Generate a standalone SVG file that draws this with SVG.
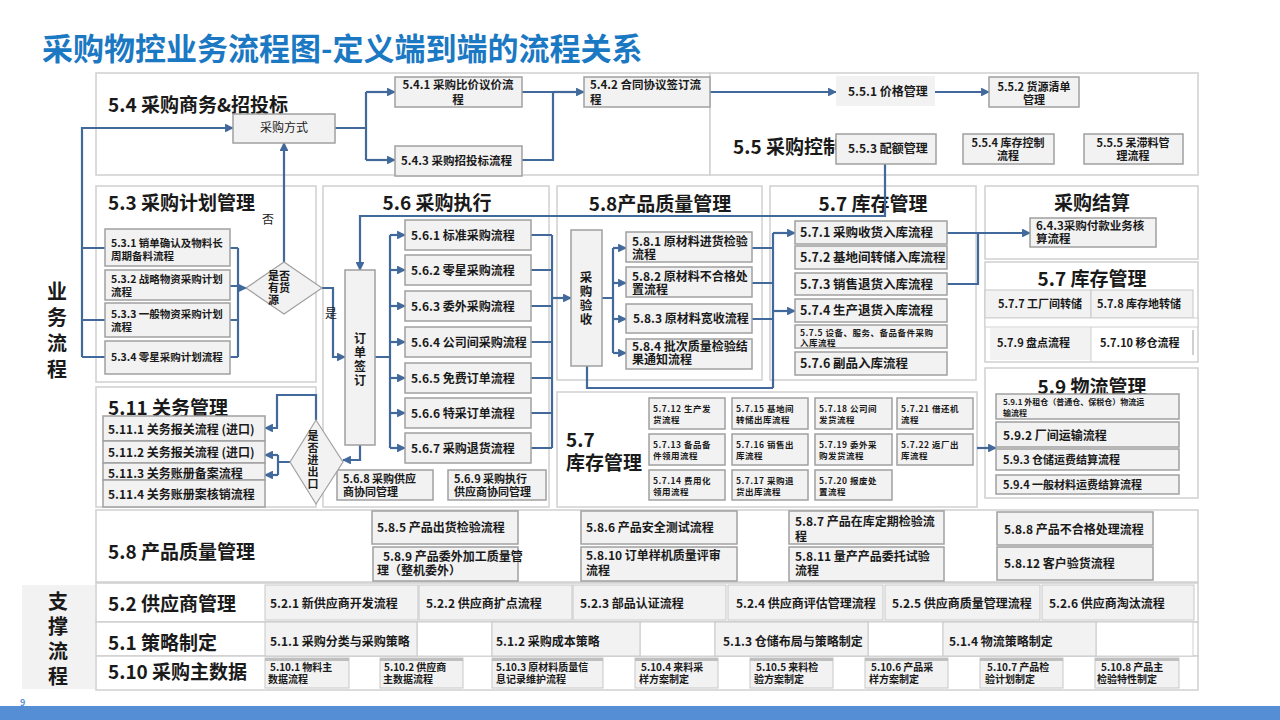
<svg xmlns="http://www.w3.org/2000/svg" width="1280" height="720" viewBox="0 0 1280 720">
<defs>
<marker id="a" viewBox="0 0 10 10" refX="9" refY="5" markerWidth="4" markerHeight="4" orient="auto" markerUnits="strokeWidth"><path d="M0,0 L10,5 L0,10 z" fill="#41699C"/></marker>
<style>
.sec{fill:#fff;stroke:#D0D0D0;stroke-width:1.5}
.box{fill:#F2F2F2;stroke:#A0A0A0;stroke-width:1.5}
.cell{fill:#F2F2F2;stroke:#C8C8C8;stroke-width:1}
.wc{fill:#fff;stroke:#D0D0D0;stroke-width:1}
.t{font-family:"Noto Sans CJK SC","Noto Sans",sans-serif;font-weight:bold;fill:#1a1a1a}
.h{font-size:19px}
.m{text-anchor:middle}
.v{writing-mode:vertical-rl;text-anchor:middle}
.f12{font-size:12px}
.f11{font-size:11px}
.f10{font-size:10.5px}
.f8{font-size:8.5px;letter-spacing:0.5px}
.c{stroke:#41699C;stroke-width:2.2;fill:none}
.ar{marker-end:url(#a)}
</style>
</defs>
<rect width="1280" height="720" fill="#fff"/>
<text x="42" y="60" class="t" style="font-size:31px;fill:#1B78C3">采购物控业务流程图-定义端到端的流程关系</text>
<rect x="0" y="706" width="1280" height="14" fill="#558ED5"/>
<text x="20" y="706" class="t" style="font-size:9px;fill:#558ED5">9</text>

<g id="label-business">
<text x="57" y="333" class="t v" style="font-size:20px;letter-spacing:6px">业务流程</text>
</g>
<g id="label-support">
<rect x="22" y="585" width="73" height="104" fill="#F2F2F2"/>
<text x="58" y="641" class="t v" style="font-size:20px;letter-spacing:5px">支撑流程</text>
</g>

<!-- sections -->
<g id="sec-5-4"><rect class="sec" x="96" y="73" width="614" height="102"/><text x="108" y="112" class="t h">5.4 采购商务&amp;招投标</text></g>
<g id="sec-5-5"><rect class="sec" x="710" y="73" width="488" height="102"/><text x="733" y="154" class="t h">5.5 采购控制</text></g>
<g id="sec-5-3"><rect class="sec" x="96" y="186" width="220" height="196"/><text x="108" y="210" class="t h">5.3 采购计划管理</text></g>
<g id="sec-5-6"><rect class="sec" x="323" y="186" width="226" height="321"/><text x="437" y="210" class="t h m">5.6 采购执行</text></g>
<g id="sec-5-8a"><rect class="sec" x="557" y="186" width="205" height="194"/><text x="660" y="211" class="t h m">5.8产品质量管理</text></g>
<g id="sec-5-7a"><rect class="sec" x="770" y="186" width="206" height="194"/><text x="873" y="211" class="t h m">5.7 库存管理</text></g>
<g id="sec-js"><rect class="sec" x="985" y="186" width="213" height="73"/><text x="1092" y="210" class="t h m">采购结算</text></g>
<g id="sec-5-7r"><rect class="sec" x="985" y="262" width="213" height="100"/><text x="1092" y="286" class="t h m">5.7 库存管理</text></g>
<g id="sec-5-9"><rect class="sec" x="985" y="368" width="213" height="130"/><text x="1092" y="394" class="t h m">5.9 物流管理</text></g>
<g id="sec-5-11"><rect class="sec" x="96" y="387" width="220" height="120"/><text x="108" y="415" class="t h">5.11 关务管理</text></g>
<g id="sec-5-7b"><rect class="sec" x="557" y="392" width="420" height="115"/><text class="t h"><tspan x="566" y="447">5.7</tspan><tspan x="566" y="470">库存管理</tspan></text></g>
<g id="sec-5-8b"><rect class="sec" x="96" y="510" width="1102" height="72"/><text x="108" y="559" class="t h">5.8 产品质量管理</text></g>
<g id="row-5-2"><rect class="sec" x="96" y="583" width="1102" height="39"/><text x="108" y="611" class="t h">5.2 供应商管理</text></g>
<g id="row-5-1"><rect class="sec" x="96" y="622" width="1102" height="34"/><text x="108" y="650" class="t h">5.1 策略制定</text></g>
<g id="row-5-10"><rect class="sec" x="96" y="656" width="1102" height="34"/><text x="108" y="679" class="t h">5.10 采购主数据</text></g>

<!-- connectors -->
<g id="connectors">
<path class="c" d="M82,357 V128 H233" style="marker-end:url(#a)"/>
<path class="c" d="M82,248 H105 M82,320 H105 M82,357 H105"/>
<path class="c" d="M230,248 H238 M230,286 H238 M230,320 H238 M230,357 H238 M238,248 V357"/>
<path class="c ar" d="M238,288 H246"/>
<path class="c ar" d="M284,262 V143"/>
<path class="c ar" d="M322,288 H333 V357 H345"/>
<path class="c" d="M335,128 H366 M366,92 V160"/>
<path class="c ar" d="M366,92 H395"/>
<path class="c ar" d="M366,160 H395"/>
<path class="c" d="M522,92 H553 M522,160 H553 V92"/>
<path class="c ar" d="M553,92 H584"/>
<path class="c ar" d="M710,92 H836"/>
<path class="c ar" d="M935,92 H989"/>
<path class="c ar" d="M885,164 V216 H360 V270"/>
<path class="c" d="M375,357 H390 M390,235 V448"/>
<path class="c ar" d="M390,235 H405"/>
<path class="c ar" d="M390,270 H405"/>
<path class="c ar" d="M390,306 H405"/>
<path class="c ar" d="M390,342 H405"/>
<path class="c ar" d="M390,378 H405"/>
<path class="c ar" d="M390,413 H405"/>
<path class="c ar" d="M390,448 H405"/>
<path class="c" d="M531,235 H552 M531,270 H552 M531,306 H552 M531,342 H552 M531,378 H552 M531,413 H552 M531,448 H552 M552,235 V448"/>
<path class="c ar" d="M552,298 H571"/>
<path class="c" d="M602,298 H613 M613,248 V353"/>
<path class="c ar" d="M613,248 H626"/>
<path class="c ar" d="M613,283 H626"/>
<path class="c ar" d="M613,319 H626"/>
<path class="c ar" d="M613,353 H626"/>
<path class="c" d="M752,248 H773 M752,283 H773 M752,319 H773 M773,233 V388 M587,366 V388 H773"/>
<path class="c ar" d="M773,233 H795"/>
<path class="c ar" d="M773,311 H795"/>
<path class="c ar" d="M947,233 H1030"/>
<path class="c" d="M947,284 H978 V233"/>
<path class="c ar" d="M360,444 V460 H343"/>
<path class="c ar" d="M316,420 V395 H277 V428 H265"/>
<path class="c" d="M290,462 H278 M278,455 V475"/>
<path class="c ar" d="M278,455 H265"/>
<path class="c ar" d="M278,475 H265"/>
<path class="c ar" d="M977,448 H996"/>
</g>

<!-- 5.4 nodes -->
<g id="n-cgfs"><rect class="box" x="233" y="114" width="102" height="29"/><text x="284" y="132" class="t m f12" style="font-weight:normal">采购方式</text></g>
<g id="n-5-4-1"><rect class="box" x="395" y="77" width="127" height="30"/><text class="t m" style="font-size:11.5px"><tspan x="458" y="89">5.4.1 采购比价议价流</tspan><tspan x="458" y="104">程</tspan></text></g>
<g id="n-5-4-3"><rect class="box" x="395" y="146" width="127" height="30"/><text x="401" y="165" class="t" style="font-size:11.5px">5.4.3 采购招投标流程</text></g>
<g id="n-5-4-2"><rect class="box" x="584" y="77" width="126" height="30"/><text class="t" style="font-size:11.5px"><tspan x="590" y="89">5.4.2 合同协议签订流</tspan><tspan x="590" y="104">程</tspan></text></g>
<!-- 5.5 nodes -->
<g id="n-5-5-1"><rect x="836" y="76" width="99" height="30" fill="#F2F2F2"/><text x="848" y="96" class="t f12">5.5.1 价格管理</text></g>
<g id="n-5-5-2"><rect class="box" x="989" y="77" width="90" height="30"/><text class="t m f11"><tspan x="1034" y="91">5.5.2 货源清单</tspan><tspan x="1034" y="104">管理</tspan></text></g>
<g id="n-5-5-3"><rect class="box" x="836" y="134" width="100" height="30"/><text x="848" y="153" class="t f12">5.5.3 配额管理</text></g>
<g id="n-5-5-4"><rect class="box" x="963" y="134" width="91" height="30"/><text class="t m f11"><tspan x="1008" y="147">5.5.4 库存控制</tspan><tspan x="1008" y="160">流程</tspan></text></g>
<g id="n-5-5-5"><rect class="box" x="1084" y="134" width="99" height="30"/><text class="t m f11"><tspan x="1133" y="147">5.5.5 呆滞料管</tspan><tspan x="1133" y="160">理流程</tspan></text></g>
<!-- 5.3 nodes -->
<g id="n-5-3-1"><rect class="box" x="105" y="229" width="125" height="37"/><text class="t f10"><tspan x="111" y="247">5.3.1 销单确认及物料长</tspan><tspan x="111" y="260">周期备料流程</tspan></text></g>
<g id="n-5-3-2"><rect class="box" x="105" y="270" width="125" height="30"/><text class="t f10"><tspan x="111" y="283">5.3.2 战略物资采购计划</tspan><tspan x="111" y="296">流程</tspan></text></g>
<g id="n-5-3-3"><rect class="box" x="105" y="303" width="125" height="34"/><text class="t f10"><tspan x="111" y="318">5.3.3 一般物资采购计划</tspan><tspan x="111" y="331">流程</tspan></text></g>
<g id="n-5-3-4"><rect class="box" x="105" y="341" width="125" height="33"/><text x="111" y="361" class="t f10">5.3.4 零星采购计划流程</text></g>
<g id="n-d1"><polygon points="246,288 284,262 322,288 284,314" fill="#F2F2F2" stroke="#A0A0A0" stroke-width="1.2"/><text class="t f11"><tspan x="268" y="280">是否</tspan><tspan x="268" y="292">有货</tspan><tspan x="268" y="304">源</tspan></text></g>
<text x="262" y="224" class="t f12" style="font-weight:normal">否</text>
<text x="325" y="318" class="t f12" style="font-weight:normal">是</text>
<!-- 5.6 nodes -->
<g id="n-ddqd"><rect class="box" x="345" y="270" width="30" height="175"/><text x="360" y="360" class="t v f12" style="letter-spacing:2px">订单签订</text></g>
<g id="n-5-6-1"><rect class="box" x="405" y="220" width="126" height="30"/><text x="411" y="240" class="t f12">5.6.1 标准采购流程</text></g>
<g id="n-5-6-2"><rect class="box" x="405" y="255" width="126" height="30"/><text x="411" y="275" class="t f12">5.6.2 零星采购流程</text></g>
<g id="n-5-6-3"><rect class="box" x="405" y="291" width="126" height="30"/><text x="411" y="311" class="t f12">5.6.3 委外采购流程</text></g>
<g id="n-5-6-4"><rect class="box" x="405" y="327" width="126" height="30"/><text x="411" y="347" class="t f12">5.6.4 公司间采购流程</text></g>
<g id="n-5-6-5"><rect class="box" x="405" y="363" width="126" height="30"/><text x="411" y="383" class="t f12">5.6.5 免费订单流程</text></g>
<g id="n-5-6-6"><rect class="box" x="405" y="398" width="126" height="30"/><text x="411" y="418" class="t f12">5.6.6 特采订单流程</text></g>
<g id="n-5-6-7"><rect class="box" x="405" y="433" width="126" height="30"/><text x="411" y="453" class="t f12">5.6.7 采购退货流程</text></g>
<g id="n-5-6-8"><rect class="box" x="337" y="470" width="96" height="30"/><text class="t f11"><tspan x="343" y="483">5.6.8 采购供应</tspan><tspan x="343" y="496">商协同管理</tspan></text></g>
<g id="n-5-6-9"><rect class="box" x="448" y="470" width="98" height="30"/><text class="t f11"><tspan x="454" y="483">5.6.9 采购执行</tspan><tspan x="454" y="496">供应商协同管理</tspan></text></g>
<!-- 5.8 nodes -->
<g id="n-cgys"><rect class="box" x="571" y="230" width="31" height="136"/><text x="586" y="299" class="t v" style="font-size:12.5px;letter-spacing:1.5px">采购验收</text></g>
<g id="n-5-8-1"><rect class="box" x="626" y="232" width="126" height="30"/><text class="t f12"><tspan x="632" y="246">5.8.1 原材料进货检验</tspan><tspan x="632" y="259">流程</tspan></text></g>
<g id="n-5-8-2"><rect class="box" x="626" y="267" width="126" height="30"/><text class="t f12"><tspan x="632" y="281">5.8.2 原材料不合格处</tspan><tspan x="632" y="294">置流程</tspan></text></g>
<g id="n-5-8-3"><rect class="box" x="626" y="304" width="126" height="29"/><text x="633" y="323" class="t f12">5.8.3 原材料宽收流程</text></g>
<g id="n-5-8-4"><rect class="box" x="626" y="339" width="126" height="30"/><text class="t f12"><tspan x="632" y="351">5.8.4 批次质量检验结</tspan><tspan x="632" y="364">果通知流程</tspan></text></g>
<!-- 5.7 nodes -->
<g id="n-5-7-1"><rect class="box" x="795" y="221" width="152" height="23"/><text x="800" y="237" class="t" style="font-size:12.5px">5.7.1 采购收货入库流程</text></g>
<g id="n-5-7-2"><rect class="box" x="795" y="246" width="152" height="23"/><text x="800" y="262" class="t" style="font-size:12.5px">5.7.2 基地间转储入库流程</text></g>
<g id="n-5-7-3"><rect class="box" x="795" y="273" width="152" height="22"/><text x="800" y="289" class="t" style="font-size:12.5px">5.7.3 销售退货入库流程</text></g>
<g id="n-5-7-4"><rect class="box" x="795" y="299" width="152" height="23"/><text x="800" y="315" class="t" style="font-size:12.5px">5.7.4 生产退货入库流程</text></g>
<g id="n-5-7-5"><rect class="box" x="795" y="325" width="152" height="23"/><text class="t f8"><tspan x="800" y="336">5.7.5 设备、服务、备品备件采购</tspan><tspan x="800" y="346">入库流程</tspan></text></g>
<g id="n-5-7-6"><rect class="box" x="795" y="352" width="152" height="23"/><text x="800" y="368" class="t" style="font-size:12.5px">5.7.6 副品入库流程</text></g>
<g id="n-6-4-3"><rect class="box" x="1030" y="218" width="126" height="29"/><text class="t" style="font-size:11.5px"><tspan x="1036" y="230">6.4.3采购付款业务核</tspan><tspan x="1036" y="243">算流程</tspan></text></g>
<!-- 5.7 right table -->
<g id="n-5-7-7"><rect class="cell" x="985" y="290" width="106" height="28"/><text x="998" y="308" class="t f11">5.7.7 工厂间转储</text></g>
<g id="n-5-7-8"><rect class="cell" x="1091" y="290" width="102" height="28"/><text x="1097" y="308" class="t f11">5.7.8 库存地转储</text></g>
<rect class="wc" x="985" y="318" width="213" height="9"/>
<g id="n-5-7-9"><rect x="990" y="328" width="101" height="32" fill="#F2F2F2"/><text x="997" y="347" class="t f11">5.7.9 盘点流程</text></g>
<g id="n-5-7-10"><line x1="1091" y1="327" x2="1091" y2="362" stroke="#D0D0D0"/><line x1="1193" y1="330" x2="1193" y2="355" stroke="#A0A0A0"/><text x="1100" y="347" class="t f11">5.7.10 移仓流程</text></g>
<!-- 5.9 nodes -->
<g id="n-5-9-1"><rect class="box" x="996" y="394" width="183" height="25"/><text class="t" style="font-size:8px"><tspan x="1003" y="405">5.9.1 外租仓（普通仓、保税仓）物流运</tspan><tspan x="1003" y="416">输流程</tspan></text></g>
<g id="n-5-9-2"><rect class="box" x="996" y="422" width="183" height="25"/><text x="1003" y="440" class="t f12">5.9.2 厂间运输流程</text></g>
<g id="n-5-9-3"><rect class="box" x="996" y="449" width="183" height="21"/><text x="1003" y="464" class="t f11">5.9.3 仓储运费结算流程</text></g>
<g id="n-5-9-4"><rect class="box" x="996" y="475" width="183" height="19"/><text x="1003" y="489" class="t f11">5.9.4 一般材料运费结算流程</text></g>
<!-- 5.11 nodes -->
<g id="n-5-11-1"><rect class="box" x="103" y="416" width="162" height="25"/><text x="108" y="434" class="t f12">5.11.1 关务报关流程 (进口)</text></g>
<g id="n-5-11-2"><rect class="box" x="103" y="441" width="162" height="22"/><text x="108" y="457" class="t f12">5.11.2 关务报关流程 (进口)</text></g>
<g id="n-5-11-3"><rect class="box" x="103" y="463" width="162" height="17"/><text x="108" y="478" class="t f12">5.11.3 关务账册备案流程</text></g>
<g id="n-5-11-4"><rect class="box" x="103" y="480" width="162" height="27"/><text x="108" y="499" class="t f12">5.11.4 关务账册案核销流程</text></g>
<g id="n-d2"><polygon points="290,462 316,420 343,462 316,504" fill="#F2F2F2" stroke="#A0A0A0" stroke-width="1.2"/><text x="313" y="460" class="t v f11" style="letter-spacing:1px">是否进出口</text></g>
<!-- 5.7 lower small nodes -->
<g id="n-5-7-12"><rect class="box" x="649" y="398" width="76" height="31"/><text class="t f8"><tspan x="653" y="412">5.7.12 生产发</tspan><tspan x="653" y="423">货流程</tspan></text></g>
<g id="n-5-7-15"><rect class="box" x="732" y="398" width="76" height="31"/><text class="t f8"><tspan x="736" y="412">5.7.15 基地间</tspan><tspan x="736" y="423">转储出库流程</tspan></text></g>
<g id="n-5-7-18"><rect class="box" x="815" y="398" width="77" height="31"/><text class="t f8"><tspan x="819" y="412">5.7.18 公司间</tspan><tspan x="819" y="423">发货流程</tspan></text></g>
<g id="n-5-7-21"><rect class="box" x="897" y="398" width="76" height="31"/><text class="t f8"><tspan x="901" y="412">5.7.21 借还机</tspan><tspan x="901" y="423">流程</tspan></text></g>
<g id="n-5-7-13"><rect class="box" x="649" y="434" width="76" height="31"/><text class="t f8"><tspan x="653" y="448">5.7.13 备品备</tspan><tspan x="653" y="459">件领用流程</tspan></text></g>
<g id="n-5-7-16"><rect class="box" x="732" y="434" width="76" height="31"/><text class="t f8"><tspan x="736" y="448">5.7.16 销售出</tspan><tspan x="736" y="459">库流程</tspan></text></g>
<g id="n-5-7-19"><rect class="box" x="815" y="434" width="77" height="31"/><text class="t f8"><tspan x="819" y="448">5.7.19 委外采</tspan><tspan x="819" y="459">购发货流程</tspan></text></g>
<g id="n-5-7-22"><rect class="box" x="897" y="434" width="76" height="31"/><text class="t f8"><tspan x="901" y="448">5.7.22 返厂出</tspan><tspan x="901" y="459">库流程</tspan></text></g>
<g id="n-5-7-14"><rect class="box" x="649" y="470" width="76" height="30"/><text class="t f8"><tspan x="653" y="484">5.7.14 费用化</tspan><tspan x="653" y="495">领用流程</tspan></text></g>
<g id="n-5-7-17"><rect class="box" x="732" y="470" width="76" height="30"/><text class="t f8"><tspan x="736" y="484">5.7.17 采购退</tspan><tspan x="736" y="495">货出库流程</tspan></text></g>
<g id="n-5-7-20"><rect class="box" x="815" y="470" width="77" height="30"/><text class="t f8"><tspan x="819" y="484">5.7.20 报废处</tspan><tspan x="819" y="495">置流程</tspan></text></g>
<!-- 5.8 bottom nodes -->
<g id="n-5-8-5"><rect class="box" x="372" y="511" width="146" height="33"/><text x="377" y="532" class="t f12">5.8.5 产品出货检验流程</text></g>
<g id="n-5-8-9"><rect class="box" x="373" y="547" width="145" height="34"/><text class="t f12"><tspan x="383" y="561">5.8.9 产品委外加工质量管</tspan><tspan x="377" y="575">理（整机委外）</tspan></text></g>
<g id="n-5-8-6"><rect class="box" x="581" y="511" width="156" height="33"/><text x="586" y="532" class="t f12">5.8.6 产品安全测试流程</text></g>
<g id="n-5-8-10"><rect class="box" x="581" y="547" width="156" height="34"/><text class="t f12"><tspan x="586" y="560">5.8.10 订单样机质量评审</tspan><tspan x="586" y="575">流程</tspan></text></g>
<g id="n-5-8-7"><rect class="box" x="789" y="511" width="155" height="33"/><text class="t f12"><tspan x="795" y="526">5.8.7 产品在库定期检验流</tspan><tspan x="795" y="541">程</tspan></text></g>
<g id="n-5-8-11"><rect class="box" x="789" y="547" width="155" height="34"/><text class="t f12"><tspan x="795" y="561">5.8.11 量产产品委托试验</tspan><tspan x="795" y="575">流程</tspan></text></g>
<g id="n-5-8-8"><rect class="box" x="997" y="512" width="156" height="33"/><text x="1004" y="534" class="t f12">5.8.8 产品不合格处理流程</text></g>
<g id="n-5-8-12"><rect class="box" x="997" y="547" width="156" height="33"/><text x="1004" y="568" class="t f12">5.8.12 客户验货流程</text></g>
<!-- 5.2 nodes -->
<g id="n-5-2-1"><rect class="cell" x="265" y="585" width="153" height="35"/><text x="270" y="608" class="t f12">5.2.1 新供应商开发流程</text></g>
<g id="n-5-2-2"><rect class="cell" x="419" y="585" width="153" height="35"/><text x="426" y="608" class="t f12">5.2.2 供应商扩点流程</text></g>
<g id="n-5-2-3"><rect class="cell" x="573" y="585" width="153" height="35"/><text x="580" y="608" class="t f12">5.2.3 部品认证流程</text></g>
<g id="n-5-2-4"><rect class="cell" x="728" y="585" width="155" height="35"/><text x="736" y="608" class="t f12">5.2.4 供应商评估管理流程</text></g>
<g id="n-5-2-5"><rect class="cell" x="885" y="585" width="155" height="35"/><text x="892" y="608" class="t f12">5.2.5 供应商质量管理流程</text></g>
<g id="n-5-2-6"><rect class="cell" x="1042" y="585" width="152" height="35"/><text x="1049" y="608" class="t f12">5.2.6 供应商淘汰流程</text></g>
<!-- 5.1 nodes -->
<g id="row-5-1-cells"><rect class="wc" x="417" y="622" width="75" height="34"/><rect class="wc" x="640" y="622" width="75" height="34"/><rect class="wc" x="868" y="622" width="75" height="34"/><rect class="wc" x="1096" y="622" width="97" height="34"/></g>
<g id="n-5-1-1"><rect class="cell" x="265" y="622" width="152" height="34"/><text x="270" y="646" class="t f12">5.1.1 采购分类与采购策略</text></g>
<g id="n-5-1-2"><rect class="cell" x="492" y="622" width="148" height="34"/><text x="496" y="646" class="t f12">5.1.2 采购成本策略</text></g>
<g id="n-5-1-3"><rect class="cell" x="715" y="622" width="153" height="34"/><text x="723" y="646" class="t f12">5.1.3 仓储布局与策略制定</text></g>
<g id="n-5-1-4"><rect class="cell" x="943" y="622" width="153" height="34"/><text x="949" y="646" class="t f12">5.1.4 物流策略制定</text></g>
<!-- 5.10 nodes -->
<g id="n-5-10-1"><rect class="cell" x="265" y="658" width="84" height="30"/><rect x="265" y="658" width="84" height="3" fill="#BFBFBF"/><text class="t" style="font-size:10px"><tspan x="270" y="671">5.10.1 物料主</tspan><tspan x="268" y="683">数据流程</tspan></text></g>
<g id="n-5-10-2"><rect class="cell" x="380" y="658" width="83" height="30"/><rect x="380" y="658" width="83" height="3" fill="#BFBFBF"/><text class="t" style="font-size:10px"><tspan x="384" y="671">5.10.2 供应商</tspan><tspan x="383" y="683">主数据流程</tspan></text></g>
<g id="n-5-10-3"><rect class="cell" x="492" y="658" width="111" height="30"/><rect x="492" y="658" width="111" height="3" fill="#BFBFBF"/><text class="t" style="font-size:10px"><tspan x="496" y="671">5.10.3 原材料质量信</tspan><tspan x="496" y="683">息记录维护流程</tspan></text></g>
<g id="n-5-10-4"><rect class="cell" x="635" y="658" width="83" height="30"/><rect x="635" y="658" width="83" height="3" fill="#BFBFBF"/><text class="t" style="font-size:10px"><tspan x="641" y="671">5.10.4 来料采</tspan><tspan x="639" y="683">样方案制定</tspan></text></g>
<g id="n-5-10-5"><rect class="cell" x="750" y="658" width="83" height="30"/><rect x="750" y="658" width="83" height="3" fill="#BFBFBF"/><text class="t" style="font-size:10px"><tspan x="756" y="671">5.10.5 来料检</tspan><tspan x="754" y="683">验方案制定</tspan></text></g>
<g id="n-5-10-6"><rect class="cell" x="865" y="658" width="83" height="30"/><rect x="865" y="658" width="83" height="3" fill="#BFBFBF"/><text class="t" style="font-size:10px"><tspan x="871" y="671">5.10.6 产品采</tspan><tspan x="869" y="683">样方案制定</tspan></text></g>
<g id="n-5-10-7"><rect class="cell" x="980" y="658" width="83" height="30"/><rect x="980" y="658" width="83" height="3" fill="#BFBFBF"/><text class="t" style="font-size:10px"><tspan x="987" y="671">5.10.7 产品检</tspan><tspan x="985" y="683">验计划制定</tspan></text></g>
<g id="n-5-10-8"><rect class="cell" x="1095" y="658" width="84" height="30"/><rect x="1095" y="658" width="84" height="3" fill="#BFBFBF"/><text class="t" style="font-size:10px"><tspan x="1101" y="671">5.10.8 产品主</tspan><tspan x="1097" y="683">检验特性制定</tspan></text></g>
</svg>
